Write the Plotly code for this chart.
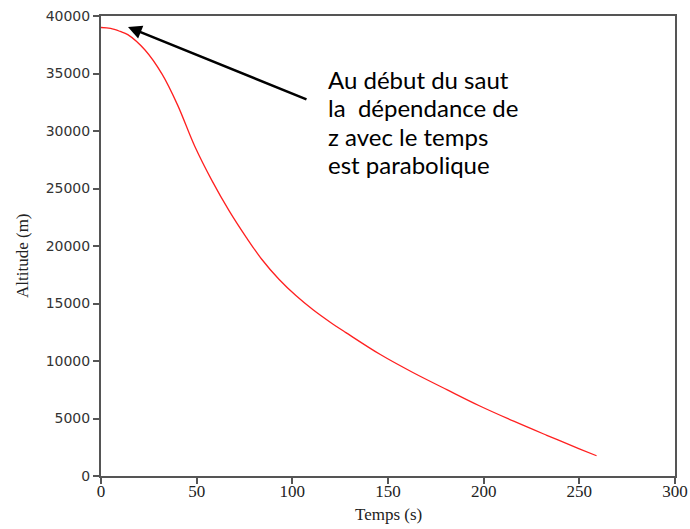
import plotly.graph_objects as go

temps = [0, 5, 10, 14, 23, 32, 40, 49, 58, 67, 76, 84, 93, 102, 111, 120, 128,
         146, 163, 181, 198, 216, 233, 250, 259]
altitude = [39000, 38920, 38660, 38380, 37040, 34920, 32270, 28670, 25680, 23050,
            20730, 18850, 17110, 15665, 14430, 13350, 12470, 10560, 9000, 7490,
            6090, 4745, 3540, 2365, 1760]

x_ticks = [0, 50, 100, 150, 200, 250, 300]
y_ticks = [0, 5000, 10000, 15000, 20000, 25000, 30000, 35000, 40000]

x_title = "Temps (s)"
y_title = "Altitude (m)"
annotation_lines = ["Au début du saut", "la\u00a0 dépendance de", "z avec le temps", "est parabolique"]

W, H = 690, 529
L, T, R, B = 101, 16, 15, 53
PW, PH = W - L - R, H - T - B


def px_to_paper_x(px):
    return (px - L) / PW


def py_to_paper_y(py):
    return (H - B - py) / PH


fig = go.Figure()
fig.add_trace(go.Scatter(x=temps, y=altitude, mode="lines",
                         line=dict(color="#ff2020", width=1.3, shape="spline", smoothing=1.0),
                         showlegend=False, hoverinfo="skip"))

axis_common = dict(showgrid=False, zeroline=False, showline=True, mirror=True,
                   linecolor="#555555", linewidth=2, ticks="outside", ticklen=6,
                   tickcolor="#555555", tickwidth=1.5, automargin=False)

fig.update_xaxes(range=[0, 300], tickvals=x_ticks, ticktext=[str(v) for v in x_ticks],
                 tickfont=dict(family="Liberation Serif", size=17, color="#222222"),
                 ticklabelstandoff=-7, **axis_common)
fig.update_yaxes(range=[0, 40000], tickvals=y_ticks, ticktext=[str(v) for v in y_ticks],
                 tickfont=dict(family="DejaVu Sans", size=14, color="#333333"),
                 **axis_common)

# axis titles placed as text at the reference positions
fig.add_annotation(x=px_to_paper_x(388), y=py_to_paper_y(514), xref="paper", yref="paper",
                   xanchor="center", yanchor="middle", showarrow=False, text=x_title,
                   borderpad=0,
                   font=dict(family="Liberation Serif", size=17, color="#222222"))
fig.add_annotation(x=px_to_paper_x(22), y=py_to_paper_y(256), xref="paper", yref="paper",
                   xanchor="center", yanchor="middle", showarrow=False, text=y_title,
                   textangle=-90,
                   font=dict(family="Liberation Serif", size=17, color="#222222"))

# arrow
fig.add_annotation(x=14.1, y=39040, xref="x", yref="y", ax=180, ay=73,
                   showarrow=True, arrowhead=2, arrowsize=1.1, arrowwidth=2.5,
                   arrowcolor="black", text="")
# text, one line per annotation
for i, line in enumerate(annotation_lines):
    fig.add_annotation(x=px_to_paper_x(326), y=py_to_paper_y(80 + 28 * i),
                       xref="paper", yref="paper",
                       xanchor="left", yanchor="middle", showarrow=False, align="left",
                       text=line, font=dict(family="Lato", size=24, color="black"))

fig.update_layout(width=W, height=H, margin=dict(l=L, r=R, t=T, b=B),
                  plot_bgcolor="white", paper_bgcolor="white")

fig.write_html("out.html", config={"displayModeBar": False},
               post_script="document.body.style.margin='0';document.body.style.overflow='hidden';")
